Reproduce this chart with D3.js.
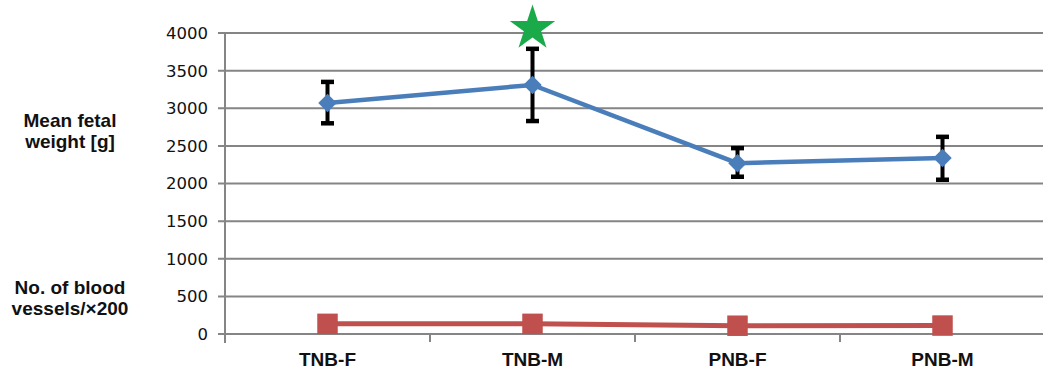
<!DOCTYPE html>
<html>
<head>
<meta charset="utf-8">
<script src="https://cdn.jsdelivr.net/npm/d3@7"></script>
<style>
  body { margin: 0; background: #fff; }
  svg { display: block; }
  .tick-label { font-family: "DejaVu Sans", Verdana, sans-serif; font-size: 16.5px; fill: #111; }
  .cat-label, .side-label { font-family: "Liberation Sans", Arial, sans-serif; font-weight: bold; font-size: 19px; fill: #111; }
</style>
</head>
<body>
<div id="chart"></div>
<script>
// data
var categories = ["TNB-F", "TNB-M", "PNB-F", "PNB-M"];
var weightMean = [3070, 3310, 2270, 2340];
var weightLow  = [2800, 2830, 2090, 2050];
var weightHigh = [3350, 3790, 2470, 2620];
var vessels    = [135, 135, 110, 112];
var yTicks     = [0, 500, 1000, 1500, 2000, 2500, 3000, 3500, 4000];
var starCategory = "TNB-M";
var starValue = 4060;

var width = 1043, height = 371;
var margin = {top: 33, right: -2, bottom: 37, left: 225};

var svg = d3.select("#chart").append("svg")
    .attr("width", width)
    .attr("height", height);

var x = d3.scaleBand()
    .domain(categories)
    .range([margin.left, width - margin.right]);

var y = d3.scaleLinear()
    .domain([0, 4000])
    .range([height - margin.bottom, margin.top]);

var gridColor = "#858585";

// horizontal gridlines
svg.append("g").selectAll("line")
    .data(yTicks)
  .enter().append("line")
    .attr("x1", margin.left - 7)
    .attr("x2", width)
    .attr("y1", function(d) { return y(d); })
    .attr("y2", function(d) { return y(d); })
    .attr("stroke", gridColor)
    .attr("stroke-width", 2);

// y tick labels
svg.append("g").selectAll("text")
    .data(yTicks)
  .enter().append("text")
    .attr("class", "tick-label")
    .attr("x", margin.left - 17)
    .attr("y", function(d) { return y(d); })
    .attr("dy", "0.36em")
    .attr("text-anchor", "end")
    .text(function(d) { return d; });

// vertical axis
svg.append("line")
    .attr("x1", margin.left).attr("x2", margin.left)
    .attr("y1", y(4000)).attr("y2", y(0) + 9)
    .attr("stroke", gridColor)
    .attr("stroke-width", 2);

// category ticks between bands
var bounds = categories.slice(1).map(function(c) { return x(c); });
svg.append("g").selectAll("line")
    .data(bounds)
  .enter().append("line")
    .attr("x1", function(d) { return d; })
    .attr("x2", function(d) { return d; })
    .attr("y1", y(0))
    .attr("y2", y(0) + 8)
    .attr("stroke", gridColor)
    .attr("stroke-width", 2);

// category labels
svg.append("g").selectAll("text")
    .data(categories)
  .enter().append("text")
    .attr("class", "cat-label")
    .attr("x", function(d) { return x(d) + x.bandwidth() / 2; })
    .attr("y", 366)
    .attr("text-anchor", "middle")
    .text(function(d) { return d; });

// side labels
var sideLabels = [
    {lines: ["Mean fetal", "weight [g]"], y: 127},
    {lines: ["No. of blood", "vessels/\u00d7200"], y: 294}
];
sideLabels.forEach(function(s) {
    var t = svg.append("text")
        .attr("class", "side-label")
        .attr("text-anchor", "middle")
        .attr("x", 70)
        .attr("y", s.y);
    s.lines.forEach(function(l, i) {
        t.append("tspan").attr("x", 70).attr("dy", i === 0 ? 0 : 21).text(l);
    });
});

var cx = function(i) { return x(categories[i]) + x.bandwidth() / 2; };

// vessels series (red)
var red = "#c0504d";
svg.append("path")
    .datum(vessels)
    .attr("fill", "none")
    .attr("stroke", red)
    .attr("stroke-width", 5)
    .attr("d", d3.line()
        .x(function(d, i) { return cx(i); })
        .y(function(d) { return y(d); }));

svg.append("g").selectAll("path")
    .data(vessels)
  .enter().append("path")
    .attr("d", d3.symbol(d3.symbolSquare, 420))
    .attr("transform", function(d, i) { return "translate(" + cx(i) + "," + y(d) + ")"; })
    .attr("fill", red);

// error bars
var err = svg.append("g");
weightMean.forEach(function(m, i) {
    var xx = cx(i);
    err.append("line")
        .attr("x1", xx).attr("x2", xx)
        .attr("y1", y(weightHigh[i])).attr("y2", y(weightLow[i]))
        .attr("stroke", "#000").attr("stroke-width", 4);
    [weightHigh[i], weightLow[i]].forEach(function(v) {
        err.append("line")
            .attr("x1", xx - 6.5).attr("x2", xx + 6.5)
            .attr("y1", y(v)).attr("y2", y(v))
            .attr("stroke", "#000").attr("stroke-width", 4.5);
    });
});

// fetal weight series (blue)
var blue = "#4a7ebb";
svg.append("path")
    .datum(weightMean)
    .attr("fill", "none")
    .attr("stroke", blue)
    .attr("stroke-width", 4.5)
    .attr("d", d3.line()
        .x(function(d, i) { return cx(i); })
        .y(function(d) { return y(d); }));

svg.append("g").selectAll("path")
    .data(weightMean)
  .enter().append("path")
    .attr("d", d3.symbol(d3.symbolSquare, 170))
    .attr("transform", function(d, i) { return "translate(" + cx(i) + "," + y(d) + ") rotate(45)"; })
    .attr("fill", blue);

// significance star
svg.append("path")
    .attr("d", d3.symbol(d3.symbolStar, 640))
    .attr("transform", "translate(" + (x(starCategory) + x.bandwidth() / 2) + "," + y(starValue) + ")")
    .attr("fill", "#1aaa4a");
</script>
</body>
</html>
